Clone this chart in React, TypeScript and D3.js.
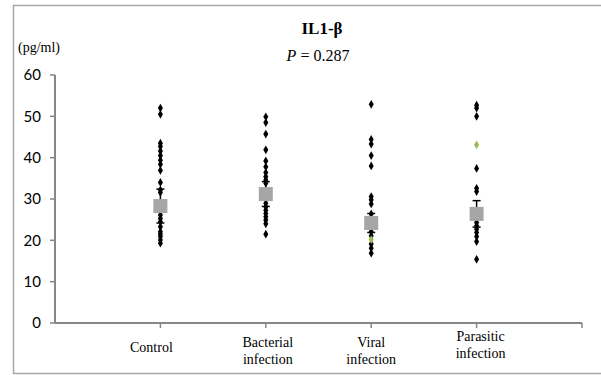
import { useEffect } from "react";
import * as d3 from "d3";

// group names (two-line labels split with \n)
const categories = ["Control", "Bacterial\ninfection", "Viral\ninfection", "Parasitic\ninfection"];

// individual observations per group (pg/ml)
const controlVals = [52.0, 50.5, 43.5, 42.7, 41.6, 40.5, 39.4, 38.4, 36.9, 34.0, 32.2, 31.6, 26.1, 25.3, 24.5, 23.3, 22.1, 21.5, 20.9, 20.1, 19.3];
const bacterialVals = [49.9, 48.5, 45.7, 41.9, 39.2, 37.8, 36.4, 35.4, 34.6, 33.8, 29.0, 28.1, 27.3, 26.5, 25.7, 24.9, 24.0, 21.5];
const viralVals = [52.9, 44.4, 43.3, 40.5, 38.0, 30.6, 29.8, 28.8, 26.4, 22.1, 21.1, 19.1, 18.1, 16.9];
const parasiticVals = [52.7, 52.0, 50.0, 37.4, 32.6, 31.8, 24.3, 23.5, 22.7, 21.9, 20.9, 19.7, 15.4];
// the few green markers
const greenPoints = [
  { group: 2, value: 20.2 },
  { group: 3, value: 43.1 },
];

const means = [28.3, 31.2, 24.2, 26.4];
const errors = [4.1, 3.0, 2.3, 3.2];

const yTicks = [0, 10, 20, 30, 40, 50, 60];
const xTicks = [0, 1, 2, 3, 4, 5];

const W = 601;
const H = 375;
const m = { left: 55, right: 582, top: 75, bottom: 323 };

export default function App() {
  useEffect(() => {
    document.body.style.margin = "0";
  }, []);

  const x = d3.scaleLinear().domain([0, 5]).range([m.left, m.right]);
  const y = d3.scaleLinear().domain([0, 60]).range([m.bottom, m.top]);
  const diamond = d3.symbol().type(d3.symbolDiamond).size(22)();

  const groups = [controlVals, bacterialVals, viralVals, parasiticVals];
  const labelShift = [-9, 2, 0, 4];
  const labelTop = [352, 347, 347, 341];

  const axisColor = "#868686";
  const serif = "'Liberation Serif', 'Times New Roman', serif";
  const sans = "Lato, 'Open Sans', Arial, sans-serif";

  return (
    <svg width={W} height={H} style={{ display: "block", background: "#fff" }}>
      {/* outer frame */}
      <rect x={13.5} y={5.5} width={600} height={368} fill="none" stroke="#a6a6a6" strokeWidth={1.5} />

      {/* titles */}
      <text x={322} y={34} textAnchor="middle" fontFamily={serif} fontWeight="bold" fontSize={17}>
        IL1-β
      </text>
      <text x={318} y={61} textAnchor="middle" fontFamily={serif} fontSize={16}>
        <tspan fontStyle="italic">P</tspan> = 0.287
      </text>
      <text x={18} y={52} fontFamily={serif} fontSize={14}>
        (pg/ml)
      </text>

      {/* y axis */}
      <line x1={m.left} x2={m.left} y1={y(60)} y2={y(0)} stroke={axisColor} strokeWidth={2} />
      {yTicks.map((t) => (
        <g key={t}>
          <line x1={m.left - 5} x2={m.left} y1={y(t)} y2={y(t)} stroke={axisColor} strokeWidth={1.5} />
          <text x={41} y={y(t)} dy="0.35em" textAnchor="end" fontFamily={sans} fontSize={15}>
            {t}
          </text>
        </g>
      ))}

      {/* x axis */}
      <line x1={m.left} x2={m.right} y1={y(0)} y2={y(0)} stroke={axisColor} strokeWidth={2} />
      {xTicks.slice(1).map((t) => (
        <line key={t} x1={x(t)} x2={x(t)} y1={y(0)} y2={y(0) + 5} stroke={axisColor} strokeWidth={1.5} />
      ))}
      {categories.map((c, i) => (
        <text key={c} x={x(i + 1) + labelShift[i]} y={labelTop[i]} textAnchor="middle" fontFamily={serif} fontSize={14}>
          {c.split("\n").map((line, j) => (
            <tspan key={j} x={x(i + 1) + labelShift[i]} dy={j === 0 ? 0 : 17}>
              {line}
            </tspan>
          ))}
        </text>
      ))}

      {/* error bars */}
      {means.map((mu, i) => {
        const cx = x(i + 1);
        return (
          <g key={i} stroke="#000" strokeWidth={1.5}>
            <line x1={cx} x2={cx} y1={y(mu - errors[i])} y2={y(mu + errors[i])} />
            <line x1={cx - 4} x2={cx + 4} y1={y(mu + errors[i])} y2={y(mu + errors[i])} />
            <line x1={cx - 4} x2={cx + 4} y1={y(mu - errors[i])} y2={y(mu - errors[i])} />
          </g>
        );
      })}

      {/* individual points */}
      {groups.map((vals, i) =>
        vals.map((v, j) => (
          <path key={`${i}-${j}`} d={diamond} transform={`translate(${x(i + 1)},${y(v)})`} fill="#000" />
        ))
      )}
      {greenPoints.map((p, k) => (
        <path key={`g${k}`} d={diamond} transform={`translate(${x(p.group + 1)},${y(p.value)})`} fill="#9bbb59" />
      ))}

      {/* means */}
      {means.map((mu, i) => (
        <rect key={i} x={x(i + 1) - 7} y={y(mu) - 7} width={14} height={14} fill="#a6a6a6" />
      ))}
    </svg>
  );
}
